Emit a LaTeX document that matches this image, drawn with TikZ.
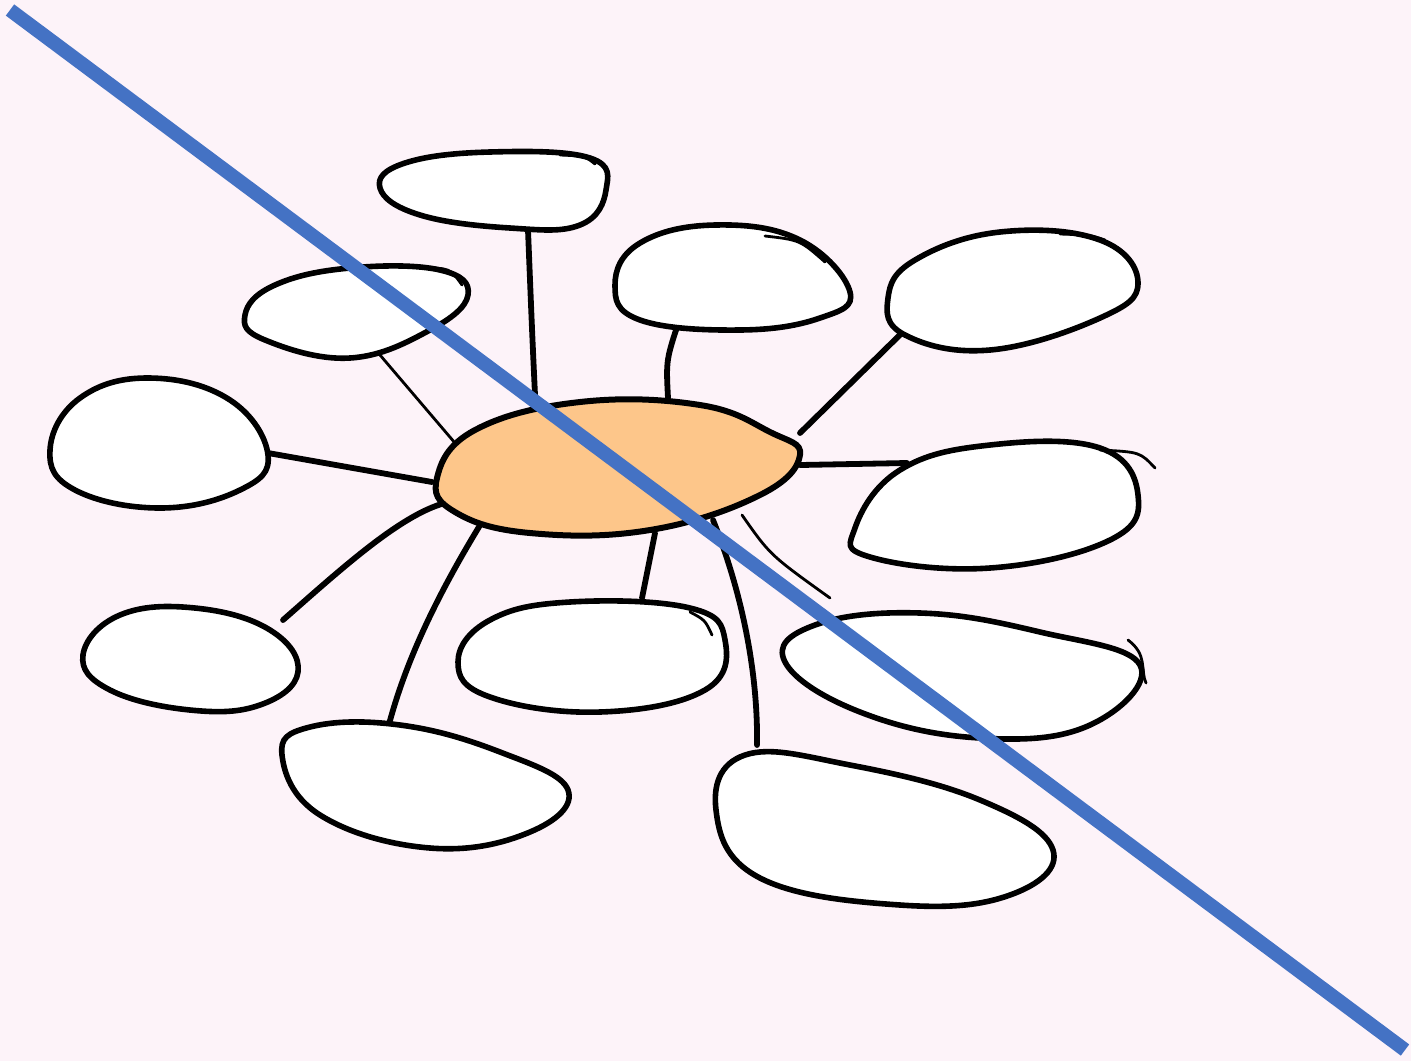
\documentclass[tikz,border=0pt]{standalone}
\definecolor{bgpink}{RGB}{253,243,249}
\definecolor{blobor}{RGB}{253,198,138}
\definecolor{slash}{RGB}{68,114,196}
\begin{document}
\begin{tikzpicture}[x=0.5pt,y=-0.5pt,
  blob/.style={draw=black,fill=white,line width=2.8pt,line join=round},
  hub/.style={draw=black,fill=blobor,line width=3pt,line join=round},
  link/.style={draw=black,line width=2.9pt,line cap=round},
  thinlink/.style={draw=black,line width=1.4pt,line cap=round}]
\fill[bgpink] (0,0) rectangle (1411,1061);
\useasboundingbox (0,0) rectangle (1411,1061);
% connectors
\coordinate (c1a) at (535,395); \coordinate (c1b) at (528,230);
\draw[link] (c1a) .. controls (532,330) .. (c1b);
\coordinate (c2a) at (455,443); \coordinate (c2b) at (380,355);
\draw[thinlink] (c2a) -- (c2b);
\coordinate (c3a) at (668,398); \coordinate (c3b) at (680,318);
\draw[link] (c3a) .. controls (666,360) .. (c3b);
\coordinate (c4a) at (800,433); \coordinate (c4b) at (913,322);
\draw[link] (c4a) -- (c4b);
\coordinate (c5a) at (432,482); \coordinate (c5b) at (268,453);
\draw[link] (c5a) -- (c5b);
\coordinate (c6a) at (800,465); \coordinate (c6b) at (907,463);
\draw[link] (c6a) -- (c6b);
\coordinate (c7a) at (445,503); \coordinate (c7b) at (283,620);
\draw[link] (c7a) .. controls (400,515) and (340,570) .. (c7b);
\coordinate (c8a) at (655,533); \coordinate (c8b) at (642,598);
\draw[link] (c8a) -- (c8b);
\coordinate (c9a) at (742,515); \coordinate (c9b) at (830,598);
\draw[thinlink] (c9a) .. controls (770,555) .. (c9b);
\coordinate (c10a) at (485,517); \coordinate (c10b) at (387,732);
\draw[link] (c10a) .. controls (440,590) and (405,660) .. (c10b);
\coordinate (c11a) at (713,520); \coordinate (c11b) at (757,745);
\draw[link] (c11a) .. controls (745,600) and (758,680) .. (c11b);
% hub
\draw[hub] plot[smooth cycle,tension=0.7] coordinates {(437,478) (475,430) (580,402) (700,405) (770,432) (800,455) (760,495) (650,530) (530,533) (455,512)};
% blobs
\draw[blob] plot[smooth cycle,tension=0.7] coordinates {(380,188) (405,163) (490,152) (590,158) (606,190) (580,225) (510,228) (420,215)};
\draw[thinlink] (560,155) .. controls (585,156) .. (595,164);
\draw[blob] plot[smooth cycle,tension=0.7] coordinates {(245,315) (275,285) (350,268) (440,270) (468,295) (430,330) (350,358) (265,340)};
\draw[thinlink] (420,268) .. controls (450,268) .. (462,285);
\draw[blob] plot[smooth cycle,tension=0.7] coordinates {(615,285) (640,243) (715,225) (800,240) (850,292) (820,318) (740,330) (640,320)};
\draw[thinlink] (765,236) .. controls (800,240) .. (825,262);
\draw[blob] plot[smooth cycle,tension=0.7] coordinates {(888,298) (915,260) (1000,232) (1100,240) (1138,283) (1100,318) (990,350) (905,335)};
\draw[thinlink] (1060,234) .. controls (1090,235) .. (1105,240);
\draw[blob] plot[smooth cycle,tension=0.7] coordinates {(50,450) (80,398) (150,378) (230,400) (268,455) (240,490) (160,508) (75,490)};
\draw[blob] plot[smooth cycle,tension=0.7] coordinates {(855,528) (900,470) (990,445) (1100,448) (1138,495) (1110,540) (990,568) (870,557)};
\draw[thinlink] (1100,450) .. controls (1140,452) .. (1155,468);
\draw[blob] plot[smooth cycle,tension=0.7] coordinates {(83,655) (120,615) (195,608) (270,630) (298,672) (260,705) (190,710) (110,690)};
\draw[blob] plot[smooth cycle,tension=0.7] coordinates {(458,662) (490,620) (570,602) (690,608) (725,640) (705,690) (600,712) (490,697)};
\draw[thinlink] (690,612) .. controls (705,620) .. (712,635);
\draw[blob] plot[smooth cycle,tension=0.7] coordinates {(785,662) (815,625) (920,613) (1040,632) (1140,665) (1090,725) (980,738) (860,712)};
\draw[thinlink] (1128,640) .. controls (1148,655) and (1140,670) .. (1146,683);
\draw[blob] plot[smooth cycle,tension=0.7] coordinates {(282,755) (310,727) (400,725) (500,752) (568,790) (530,832) (430,848) (320,815)};
\draw[blob] plot[smooth cycle,tension=0.7] coordinates {(716,810) (745,755) (850,765) (980,800) (1053,850) (1010,895) (900,905) (760,878)};
% blue slash
\coordinate (s1) at (10,10); \coordinate (s2) at (1405,1050);
\draw[slash,line width=7pt] (s1) -- (s2);
\end{tikzpicture}
\end{document}
